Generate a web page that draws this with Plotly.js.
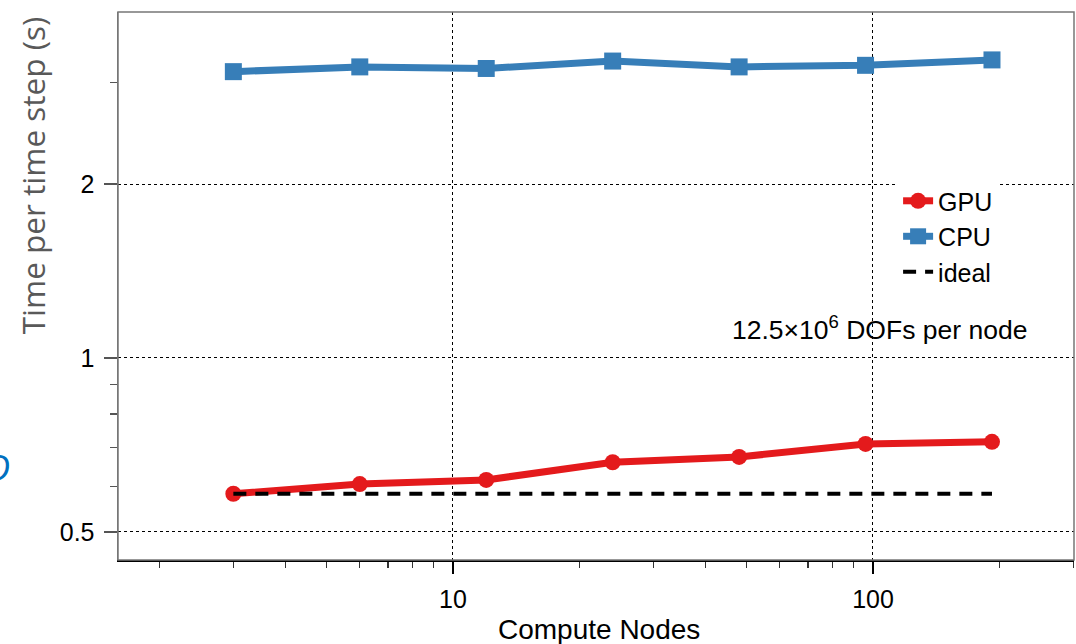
<!DOCTYPE html>
<html>
<head>
<meta charset="utf-8">
<script src="https://cdn.plot.ly/plotly-3.0.1.min.js"></script>
<style>html,body{margin:0;padding:0;background:#fff;}#chart{width:1076px;height:644px;}</style>
</head>
<body>
<div id="chart"></div>
<script>
const nodes = [3, 6, 12, 24, 48, 96, 192];
const gpuTime = [0.582, 0.605, 0.615, 0.660, 0.674, 0.710, 0.716];
const cpuTime = [3.13, 3.19, 3.17, 3.265, 3.19, 3.21, 3.28];
const idealTime = [0.582, 0.582, 0.582, 0.582, 0.582, 0.582, 0.582];
const xTickVals = [10, 100];
const xTickText = ["10", "100"];
const yTickVals = [0.5, 1, 2];
const yTickText = ["0.5", "1", "2"];

const traces = [
  {x: nodes, y: gpuTime, name: "GPU", mode: "lines+markers", type: "scatter",
   line: {color: "#e41a1c", width: 7}, marker: {symbol: "circle", size: 16, color: "#e41a1c"}},
  {x: nodes, y: cpuTime, name: "CPU", mode: "lines+markers", type: "scatter",
   line: {color: "#377eb8", width: 7}, marker: {symbol: "square", size: 17, color: "#377eb8"}},
  {x: nodes, y: idealTime, name: "ideal", mode: "lines", type: "scatter",
   line: {color: "#000", width: 4, dash: "13px,9px"}}
];

const font = "Liberation Sans, Arial, Helvetica, sans-serif";
const layout = {
  width: 1076, height: 644,
  margin: {l: 118, r: 2, t: 12, b: 84},
  paper_bgcolor: "#fff", plot_bgcolor: "#fff",
  font: {family: font, color: "#000", size: 24},
  showlegend: true,
  legend: {x: 0.816, y: 0.697, xanchor: "left", yanchor: "top", bgcolor: "#fff",
           font: {family: font, size: 25, color: "#000"}, tracegroupgap: 0, itemwidth: 30},
  xaxis: {
    type: "log", range: [Math.log10(1.594), Math.log10(301)],
    tickvals: xTickVals, ticktext: xTickText,
    ticks: "outside", ticklen: 12, tickwidth: 1.5, tickcolor: "#000",
    showline: true, linecolor: "#000", linewidth: 1.5,
    showgrid: true, gridcolor: "#000", griddash: "dot", gridwidth: 1,
    zeroline: false, tickfont: {size: 25}, ticklabelstandoff: 4,
    minor: {ticks: "outside", ticklen: 6, tickwidth: 1.2, tickcolor: "#333", dtick: "D1", showgrid: false}
  },
  yaxis: {
    type: "log", range: [Math.log10(0.447), Math.log10(3.97)],
    tickvals: yTickVals, ticktext: yTickText,
    ticks: "outside", ticklen: 13, tickwidth: 1.5, tickcolor: "#555",
    showline: true, linecolor: "#777", linewidth: 1.5,
    showgrid: true, gridcolor: "#000", griddash: "dot", gridwidth: 1,
    zeroline: false, tickfont: {size: 25}, ticklabelstandoff: 4,
    minor: {ticks: "outside", ticklen: 7, tickwidth: 1.2, tickcolor: "#555", dtick: "D1", showgrid: false}
  },
  shapes: [
    {type: "rect", xref: "paper", yref: "paper", x0: 0, x1: 1, y0: 0, y1: 1,
     line: {color: "#777", width: 1.5}, layer: "above"}
  ],
  annotations: [
    {text: "12.5×10<sup>6</sup> DOFs per node", xref: "paper", yref: "paper", x: 0.797, y: 0.423,
     xanchor: "center", yanchor: "middle", showarrow: false, font: {family: font, size: 26.5, color: "#000"}},
    {text: "Compute Nodes", xref: "paper", yref: "paper", x: 0.503, y: -0.1277,
     xanchor: "center", yanchor: "middle", showarrow: false, font: {family: font, size: 28, color: "#000"}},
    {text: "Time per time step (s)", xref: "paper", yref: "paper", x: -0.09, y: 0.702,
     xanchor: "center", yanchor: "middle", textangle: -90, showarrow: false,
     font: {family: "Open Sans, sans-serif", size: 31.5, color: "#595959"}},
    {text: "<i>D</i>", xref: "paper", yref: "paper", x: -0.111, y: 0.168,
     xanchor: "right", yanchor: "middle", showarrow: false,
     font: {family: "Open Sans, sans-serif", size: 36, color: "#0070c0"}}
  ]
};

Plotly.newPlot("chart", traces, layout, {displayModeBar: false, staticPlot: true});
</script>
</body>
</html>
